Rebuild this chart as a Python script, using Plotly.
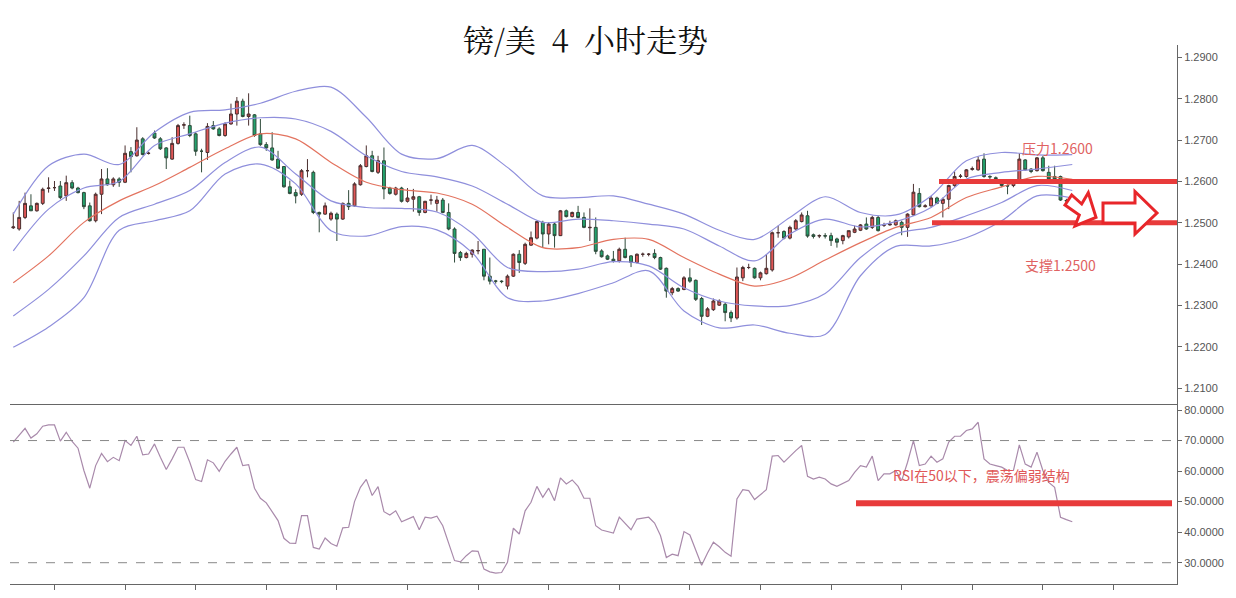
import plotly.graph_objects as go

# ---------------- data ----------------
idx = list(range(181))

opens = [1.2488,1.2485,1.2513,1.2541,1.2529,1.2547,1.2583,1.2585,1.2589,1.2565,
 1.2597,1.2584,1.2573,1.2541,1.2505,1.2569,1.2606,1.2592,1.2606,1.2598,
 1.2672,1.2662,1.2703,1.2668,1.2717,1.2703,1.2681,1.2654,1.2692,1.2736,
 1.2735,1.2715,1.2673,1.2670,1.2735,1.2727,1.2711,1.2739,1.2763,1.2794,
 1.2757,1.2761,1.2715,1.2689,1.2681,1.2654,1.2636,1.2587,1.2573,1.2569,
 1.2626,1.2622,1.2525,1.2521,1.2509,1.2521,1.2509,1.2547,1.2541,1.2592,
 1.2636,1.2662,1.2622,1.2650,1.2584,1.2569,1.2584,1.2552,1.2557,1.2563,
 1.2525,1.2555,1.2547,1.2555,1.2525,1.2485,1.2428,1.2416,1.2424,1.2432,
 1.2436,1.2371,1.2359,1.2359,1.2347,1.2371,1.2424,1.2402,1.2446,1.2463,
 1.2501,1.2473,1.2497,1.2469,1.2529,1.2515,1.2525,1.2513,1.2488,1.2489,
 1.2432,1.2420,1.2412,1.2408,1.2436,1.2420,1.2404,1.2424,1.2424,1.2426,
 1.2416,1.2390,1.2331,1.2341,1.2339,1.2367,1.2361,1.2317,1.2274,1.2290,
 1.2301,1.2303,1.2283,1.2270,1.2367,1.2392,1.2390,1.2367,1.2377,1.2386,
 1.2476,1.2479,1.2463,1.2485,1.2503,1.2517,1.2471,1.2468,1.2469,1.2469,
 1.2461,1.2457,1.2466,1.2477,1.2482,1.2497,1.2489,1.2513,1.2494,1.2495,
 1.2495,1.2501,1.2489,1.2519,1.2571,1.2539,1.2541,1.2560,1.2547,1.2557,
 1.2590,1.2612,1.2612,1.2629,1.2628,1.2654,1.2612,1.2609,1.2598,1.2590,
 1.2590,1.2598,1.2652,1.2630,1.2626,1.2657,1.2622,1.2612,1.2612,1.2554,
 1.2551]

highs = [1.2525,1.2553,1.2573,1.2569,1.2549,1.2585,1.2610,1.2601,1.2601,1.2614,
 1.2603,1.2587,1.2575,1.2549,1.2573,1.2630,1.2632,1.2610,1.2610,1.2687,
 1.2683,1.2731,1.2707,1.2672,1.2723,1.2707,1.2683,1.2707,1.2739,1.2743,
 1.2759,1.2719,1.2679,1.2741,1.2746,1.2731,1.2743,1.2788,1.2804,1.2800,
 1.2813,1.2763,1.2751,1.2695,1.2719,1.2674,1.2636,1.2602,1.2581,1.2630,
 1.2654,1.2626,1.2527,1.2549,1.2527,1.2525,1.2549,1.2579,1.2598,1.2642,
 1.2687,1.2674,1.2662,1.2682,1.2587,1.2587,1.2587,1.2584,1.2582,1.2565,
 1.2553,1.2568,1.2565,1.2560,1.2547,1.2489,1.2432,1.2430,1.2436,1.2456,
 1.2436,1.2416,1.2362,1.2361,1.2375,1.2426,1.2434,1.2452,1.2479,1.2505,
 1.2505,1.2501,1.2501,1.2531,1.2532,1.2527,1.2541,1.2525,1.2535,1.2513,
 1.2436,1.2423,1.2432,1.2440,1.2464,1.2422,1.2426,1.2428,1.2427,1.2436,
 1.2418,1.2392,1.2345,1.2344,1.2371,1.2390,1.2363,1.2321,1.2296,1.2317,
 1.2315,1.2307,1.2288,1.2392,1.2396,1.2401,1.2392,1.2382,1.2424,1.2479,
 1.2493,1.2482,1.2493,1.2509,1.2525,1.2529,1.2474,1.2472,1.2475,1.2476,
 1.2464,1.2471,1.2481,1.2493,1.2497,1.2513,1.2517,1.2517,1.2500,1.2505,
 1.2508,1.2505,1.2523,1.2594,1.2584,1.2545,1.2565,1.2563,1.2561,1.2592,
 1.2624,1.2618,1.2630,1.2636,1.2660,1.2668,1.2615,1.2612,1.2604,1.2593,
 1.2602,1.2668,1.2654,1.2632,1.2659,1.2662,1.2638,1.2638,1.2614,1.2558,
 1.2555]

lows = [1.2485,1.2481,1.2509,1.2529,1.2527,1.2543,1.2573,1.2577,1.2557,1.2553,
 1.2581,1.2571,1.2533,1.2503,1.2501,1.2521,1.2590,1.2587,1.2587,1.2596,
 1.2622,1.2660,1.2663,1.2665,1.2703,1.2676,1.2630,1.2652,1.2689,1.2727,
 1.2707,1.2662,1.2622,1.2652,1.2725,1.2709,1.2708,1.2737,1.2735,1.2755,
 1.2735,1.2708,1.2686,1.2674,1.2650,1.2630,1.2585,1.2569,1.2547,1.2565,
 1.2610,1.2521,1.2477,1.2519,1.2505,1.2456,1.2507,1.2531,1.2539,1.2590,
 1.2634,1.2622,1.2618,1.2557,1.2568,1.2566,1.2549,1.2549,1.2527,1.2517,
 1.2523,1.2544,1.2527,1.2523,1.2482,1.2404,1.2408,1.2414,1.2416,1.2424,
 1.2361,1.2351,1.2353,1.2354,1.2339,1.2369,1.2379,1.2398,1.2444,1.2460,
 1.2440,1.2448,1.2440,1.2468,1.2513,1.2513,1.2511,1.2487,1.2456,1.2424,
 1.2416,1.2410,1.2404,1.2404,1.2414,1.2393,1.2402,1.2418,1.2419,1.2412,
 1.2386,1.2319,1.2325,1.2333,1.2337,1.2355,1.2311,1.2253,1.2272,1.2287,
 1.2299,1.2262,1.2260,1.2266,1.2359,1.2388,1.2365,1.2361,1.2375,1.2382,
 1.2464,1.2460,1.2460,1.2483,1.2501,1.2464,1.2462,1.2463,1.2462,1.2444,
 1.2440,1.2448,1.2462,1.2475,1.2480,1.2483,1.2485,1.2479,1.2490,1.2493,
 1.2493,1.2470,1.2466,1.2517,1.2537,1.2537,1.2539,1.2545,1.2513,1.2533,
 1.2587,1.2608,1.2609,1.2626,1.2626,1.2609,1.2606,1.2604,1.2586,1.2569,
 1.2586,1.2594,1.2626,1.2620,1.2624,1.2624,1.2604,1.2604,1.2553,1.2550,
 1.2546]

closes = [1.2490,1.2513,1.2547,1.2529,1.2547,1.2581,1.2584,1.2585,1.2561,1.2597,
 1.2584,1.2573,1.2539,1.2505,1.2569,1.2606,1.2592,1.2606,1.2598,1.2668,
 1.2660,1.2700,1.2665,1.2668,1.2705,1.2679,1.2657,1.2692,1.2735,1.2737,
 1.2711,1.2673,1.2673,1.2733,1.2727,1.2711,1.2739,1.2763,1.2794,1.2757,
 1.2763,1.2711,1.2689,1.2681,1.2652,1.2632,1.2587,1.2571,1.2565,1.2626,
 1.2626,1.2525,1.2521,1.2541,1.2523,1.2509,1.2547,1.2539,1.2594,1.2638,
 1.2662,1.2624,1.2650,1.2582,1.2571,1.2584,1.2552,1.2560,1.2563,1.2525,
 1.2552,1.2555,1.2555,1.2525,1.2485,1.2426,1.2416,1.2426,1.2434,1.2433,
 1.2371,1.2359,1.2359,1.2358,1.2371,1.2424,1.2404,1.2448,1.2464,1.2503,
 1.2473,1.2497,1.2469,1.2529,1.2515,1.2525,1.2513,1.2489,1.2489,1.2431,
 1.2418,1.2412,1.2408,1.2436,1.2416,1.2404,1.2424,1.2424,1.2424,1.2416,
 1.2388,1.2335,1.2341,1.2335,1.2367,1.2359,1.2315,1.2274,1.2292,1.2311,
 1.2311,1.2283,1.2270,1.2369,1.2392,1.2392,1.2367,1.2379,1.2390,1.2476,
 1.2476,1.2463,1.2489,1.2505,1.2519,1.2468,1.2467,1.2469,1.2468,1.2457,
 1.2453,1.2469,1.2481,1.2485,1.2495,1.2485,1.2513,1.2481,1.2495,1.2497,
 1.2505,1.2489,1.2521,1.2574,1.2539,1.2541,1.2560,1.2547,1.2557,1.2590,
 1.2612,1.2613,1.2628,1.2631,1.2652,1.2612,1.2611,1.2607,1.2590,1.2589,
 1.2598,1.2654,1.2628,1.2624,1.2657,1.2626,1.2606,1.2606,1.2555,1.2553,
 1.2548]

# Bollinger-style bands, read at every 6th candle
band_x = [0,6,12,18,24,30,36,42,48,54,60,66,72,78,84,90,96,102,108,114,120,126,132,138,144,150,156,162,168,174,180]
upper_outer = [1.2521,1.2638,1.2666,1.2641,1.2719,1.2767,1.2773,1.2789,1.2818,1.2828,1.2755,1.2666,1.2655,1.2687,1.2634,
               1.2565,1.2561,1.2565,1.2545,1.2521,1.2482,1.2460,1.2513,1.2563,1.2525,1.2519,1.2565,1.2650,1.2670,1.2664,1.2665]
upper_inner = [1.2432,1.2533,1.2584,1.2600,1.2687,1.2715,1.2741,1.2754,1.2751,1.2721,1.2662,1.2624,1.2611,1.2589,1.2545,
               1.2501,1.2509,1.2505,1.2497,1.2485,1.2444,1.2408,1.2473,1.2509,1.2490,1.2503,1.2537,1.2606,1.2622,1.2630,1.2641]
middle = [1.2355,1.2420,1.2501,1.2553,1.2590,1.2634,1.2679,1.2715,1.2703,1.2646,1.2598,1.2580,1.2572,1.2545,1.2489,
          1.2440,1.2440,1.2460,1.2460,1.2416,1.2376,1.2347,1.2366,1.2410,1.2452,1.2489,1.2513,1.2561,1.2587,1.2612,1.2605]
lower_inner = [1.2275,1.2339,1.2420,1.2513,1.2545,1.2578,1.2646,1.2683,1.2618,1.2553,1.2537,1.2535,1.2526,1.2475,1.2392,
               1.2382,1.2388,1.2406,1.2396,1.2343,1.2311,1.2299,1.2300,1.2329,1.2416,1.2473,1.2489,1.2517,1.2549,1.2590,1.2578]
lower_outer = [1.2199,1.2248,1.2319,1.2482,1.2505,1.2529,1.2618,1.2642,1.2594,1.2481,1.2468,1.2491,1.2483,1.2428,1.2319,
               1.2311,1.2329,1.2355,1.2384,1.2287,1.2246,1.2253,1.2233,1.2230,1.2372,1.2443,1.2444,1.2464,1.2505,1.2565,1.2560]

rsi = [69.5,71.6,74.0,70.8,72.2,74.7,75.1,75.1,69.8,72.7,
 69.7,67.5,60.2,54.4,61.8,65.8,63.1,64.5,63.4,70.0,
 68.4,71.4,65.3,65.6,68.9,64.5,60.5,64.0,67.8,67.8,
 62.9,57.2,56.6,63.7,62.7,59.9,63.2,65.6,67.8,61.8,
 62.1,54.4,51.1,49.6,46.5,43.8,38.0,36.4,36.3,45.4,
 45.4,35.0,34.5,38.1,36.3,35.4,41.4,41.6,50.0,54.7,
 57.3,52.0,54.9,46.7,45.6,47.0,43.4,44.3,45.1,40.8,
 44.9,44.6,45.2,42.1,36.7,30.7,30.3,32.3,33.9,33.7,
 27.9,27.0,26.6,26.8,30.1,41.3,39.4,47.0,49.8,55.0,
 51.4,54.4,50.3,57.8,55.8,57.1,55.0,51.1,51.1,42.1,
 40.7,40.2,39.7,44.9,42.7,40.8,44.3,44.6,44.9,43.0,
 38.9,31.7,32.8,32.3,40.2,39.1,33.9,29.2,33.2,36.7,
 35.2,33.4,32.1,50.9,53.9,53.6,50.7,52.2,53.9,64.9,
 65.1,62.9,64.9,66.7,68.4,58.3,57.4,58.0,57.4,55.8,
 55.0,56.0,56.9,59.6,61.8,61.3,64.9,56.9,59.1,59.1,
 60.2,56.9,62.9,70.0,61.8,62.3,64.9,62.9,64.0,69.5,
 71.4,71.4,73.3,73.8,76.0,64.0,62.3,61.8,61.3,60.2,
 60.2,68.6,62.3,61.3,66.2,60.2,56.3,54.7,44.9,44.1,
 43.4]

price_ticks = [1.21,1.22,1.23,1.24,1.25,1.26,1.27,1.28,1.29]
rsi_ticks = [30,40,50,60,70,80]
x_ticks = [7,19,31,43,55,67,79,91,103,115,127,139,151,163,175,187]
resistance = 1.26
support = 1.25
rsi_mark = 49.5

# ---------------- layout geometry (page pixels) ----------------
BODY = 8                      # default page margin around the figure
W, H = 1236 - 2 * BODY, 598 - 2 * BODY
L_PX, R_PX, T_PX, B_PX = 10, 1177, 45, 584   # plot area on the page
SPLIT_PX = 405
rsi_frac = (B_PX - SPLIT_PX) / (B_PX - T_PX)

def px(xp):
    return (xp - L_PX) / (R_PX - L_PX)

def py(yp):
    return (B_PX - yp) / (B_PX - T_PX)

def poly(points):
    return "M " + " L ".join(f"{px(a):.5f},{py(b):.5f}" for a, b in points) + " Z"

fig = go.Figure()

fig.add_trace(go.Candlestick(
    x=idx, open=opens, high=highs, low=lows, close=closes,
    increasing=dict(line=dict(color="#4a2f2f", width=1), fillcolor="#e05656"),
    decreasing=dict(line=dict(color="#2f4a3a", width=1), fillcolor="#22a36d"),
    whiskerwidth=0, xaxis="x", yaxis="y", showlegend=False, hoverinfo="skip"))

band_purple = "#8f8fdc"
for arr, col in [(upper_outer, band_purple), (upper_inner, band_purple), (middle, "#e3735f"),
                 (lower_inner, band_purple), (lower_outer, band_purple)]:
    fig.add_trace(go.Scatter(x=band_x, y=arr, mode="lines",
                             line=dict(color=col, width=1.2, shape="spline", smoothing=0.9),
                             xaxis="x", yaxis="y", showlegend=False, hoverinfo="skip"))

fig.add_trace(go.Scatter(x=idx, y=rsi, mode="lines", line=dict(color="#a98aab", width=1.2),
                         xaxis="x2", yaxis="y2", showlegend=False, hoverinfo="skip"))

shapes = []
for lvl in (70, 30):
    shapes.append(dict(type="line", xref="paper", yref="y2", x0=0, x1=1, y0=lvl, y1=lvl,
                       line=dict(color="#888888", width=1, dash="dash")))
shapes.append(dict(type="line", xref="paper", yref="y", x0=px(939), x1=1, y0=resistance, y1=resistance,
                   line=dict(color="#e83b3b", width=5)))
shapes.append(dict(type="line", xref="paper", yref="y", x0=px(932), x1=1, y0=support, y1=support,
                   line=dict(color="#e83b3b", width=5)))
shapes.append(dict(type="line", xref="paper", yref="y2", x0=px(856), x1=px(1172), y0=rsi_mark, y1=rsi_mark,
                   line=dict(color="#e83b3b", width=6)))
# outlined arrows
shapes.append(dict(type="path", xref="paper", yref="paper",
                   path=poly([(1065, 205), (1071.7, 195), (1081.7, 204), (1088.3, 192.7),
                              (1096, 217.3), (1075, 226), (1079.3, 215)]),
                   line=dict(color="#e8262a", width=3), fillcolor="white"))
shapes.append(dict(type="path", xref="paper", yref="paper",
                   path=poly([(1103, 203), (1135, 203), (1135, 191.5), (1157, 213),
                              (1135, 234), (1135, 223), (1103, 223)]),
                   line=dict(color="#e8262a", width=3), fillcolor="white"))

cjk = "Noto Sans CJK SC, sans-serif"
annotations = [
    dict(text="镑/美\u20024\u2002小时走势", xref="paper", yref="paper", x=px(585), y=py(38),
         showarrow=False, font=dict(family="Noto Serif CJK SC, Noto Sans CJK SC, serif", size=31, color="#111111"),
         xanchor="center", yanchor="middle"),
    dict(text="压力1.2600", xref="paper", yref="paper", x=px(1057), y=py(148), showarrow=False,
         font=dict(family=cjk, size=14, color="#e06262"), xanchor="center", yanchor="middle"),
    dict(text="支撑1.2500", xref="paper", yref="paper", x=px(1060), y=py(265), showarrow=False,
         font=dict(family=cjk, size=14, color="#e06262"), xanchor="center", yanchor="middle"),
    dict(text="RSI在50以下，震荡偏弱结构", xref="paper", yref="paper", x=px(981), y=py(475), showarrow=False,
         font=dict(family=cjk, size=14, color="#e05858"), xanchor="center", yanchor="middle"),
]

axis_font = dict(family="Liberation Sans, Arial, sans-serif", size=11, color="#555555")
fig.update_layout(
    width=W, height=H,
    margin=dict(l=L_PX - BODY, r=(W + BODY) - R_PX, t=T_PX - BODY, b=(H + BODY) - B_PX),
    paper_bgcolor="white", plot_bgcolor="white",
    showlegend=False,
    xaxis=dict(domain=[0, 1], range=[-0.56, 197.8], anchor="y", showticklabels=False, showgrid=False,
               zeroline=False, showline=False, ticks="", rangeslider=dict(visible=False)),
    xaxis2=dict(domain=[0, 1], matches="x", anchor="y2", showticklabels=False, showgrid=False, zeroline=False,
                showline=True, mirror=True, linecolor="#666666", linewidth=1, ticks="outside",
                tickvals=x_ticks, ticklen=5, tickcolor="#666666"),
    yaxis=dict(domain=[rsi_frac, 1], range=[1.20596, 1.29298], side="right", anchor="x",
               tickvals=price_ticks, ticktext=[f"{v:.4f}" for v in price_ticks],
               showgrid=False, zeroline=False, showline=True, linecolor="#666666", linewidth=1,
               ticks="outside", ticklen=4, tickcolor="#666666", tickfont=axis_font),
    yaxis2=dict(domain=[0, rsi_frac], range=[23.03, 81.64], side="right", anchor="x2",
                tickvals=rsi_ticks, ticktext=[f"{v:.4f}" for v in rsi_ticks],
                showgrid=False, zeroline=False, showline=True, linecolor="#666666", linewidth=1,
                ticks="outside", ticklen=4, tickcolor="#666666", tickfont=axis_font),
    shapes=shapes, annotations=annotations,
)

fig.write_html("out.html")
